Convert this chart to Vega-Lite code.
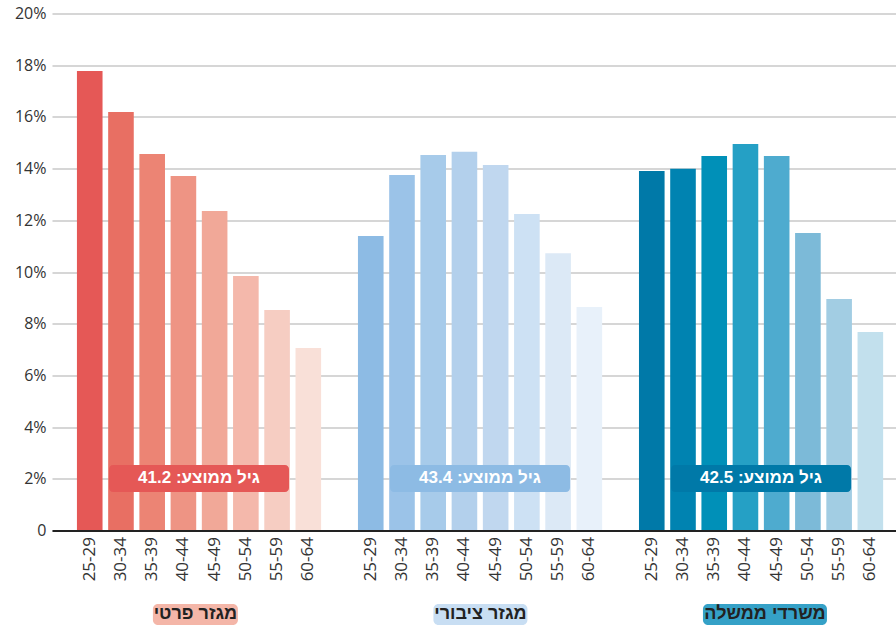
{
  "$schema": "https://vega.github.io/schema/vega-lite/v6.json",
  "width": 844,
  "height": 517,
  "autosize": {"type": "none"},
  "padding": {"left": 52, "top": 13.5, "right": 0, "bottom": 95.5},
  "background": "white",
  "config": {
    "view": {"stroke": null},
    "font": "Open Sans",
    "axisY": {
      "title": null,
      "values": [0, 2, 4, 6, 8, 10, 12, 14, 16, 18, 20],
      "labelExpr": "datum.value == 0 ? '0' : datum.value + '%'",
      "labelFontSize": 16,
      "labelColor": "#333333",
      "labelFont": "Open Sans",
      "labelPadding": 6,
      "ticks": false,
      "domain": false,
      "grid": true,
      "gridColor": "#d6d6d6",
      "gridWidth": 2
    }
  },
  "datasets": {
    "bars": [
      {"slot": "1|25-29", "group": "מגזר פרטי", "value": 17.78},
      {"slot": "1|30-34", "group": "מגזר פרטי", "value": 16.19},
      {"slot": "1|35-39", "group": "מגזר פרטי", "value": 14.56},
      {"slot": "1|40-44", "group": "מגזר פרטי", "value": 13.71},
      {"slot": "1|45-49", "group": "מגזר פרטי", "value": 12.36},
      {"slot": "1|50-54", "group": "מגזר פרטי", "value": 9.85},
      {"slot": "1|55-59", "group": "מגזר פרטי", "value": 8.53},
      {"slot": "1|60-64", "group": "מגזר פרטי", "value": 7.06},
      {"slot": "2|25-29", "group": "מגזר ציבורי", "value": 11.39},
      {"slot": "2|30-34", "group": "מגזר ציבורי", "value": 13.75},
      {"slot": "2|35-39", "group": "מגזר ציבורי", "value": 14.53},
      {"slot": "2|40-44", "group": "מגזר ציבורי", "value": 14.65},
      {"slot": "2|45-49", "group": "מגזר ציבורי", "value": 14.14},
      {"slot": "2|50-54", "group": "מגזר ציבורי", "value": 12.24},
      {"slot": "2|55-59", "group": "מגזר ציבורי", "value": 10.73},
      {"slot": "2|60-64", "group": "מגזר ציבורי", "value": 8.65},
      {"slot": "3|25-29", "group": "משרדי ממשלה", "value": 13.91},
      {"slot": "3|30-34", "group": "משרדי ממשלה", "value": 13.99},
      {"slot": "3|35-39", "group": "משרדי ממשלה", "value": 14.49},
      {"slot": "3|40-44", "group": "משרדי ממשלה", "value": 14.95},
      {"slot": "3|45-49", "group": "משרדי ממשלה", "value": 14.49},
      {"slot": "3|50-54", "group": "משרדי ממשלה", "value": 11.51},
      {"slot": "3|55-59", "group": "משרדי ממשלה", "value": 8.96},
      {"slot": "3|60-64", "group": "משרדי ממשלה", "value": 7.68}
    ],
    "groups": [
      {"slot": "1|40-44", "group": "מגזר פרטי", "label": "גיל ממוצע: 41.2"},
      {"slot": "2|40-44", "group": "מגזר ציבורי", "label": "גיל ממוצע: 43.4"},
      {"slot": "3|40-44", "group": "משרדי ממשלה", "label": "גיל ממוצע: 42.5"}
    ]
  },
  "encoding": {
    "x": {
      "field": "slot",
      "type": "nominal",
      "scale": {
        "type": "band",
        "domain": ["1|25-29","1|30-34","1|35-39","1|40-44","1|45-49","1|50-54","1|55-59","1|60-64","gap1",
                   "2|25-29","2|30-34","2|35-39","2|40-44","2|45-49","2|50-54","2|55-59","2|60-64","gap2",
                   "3|25-29","3|30-34","3|35-39","3|40-44","3|45-49","3|50-54","3|55-59","3|60-64"],
        "paddingInner": 0.18,
        "paddingOuter": 0.605,
        "align": 0.66
      },
      "axis": {
        "title": null,
        "labelExpr": "indexof(datum.value, '|') >= 0 ? split(datum.value, '|')[1] : ''",
        "labelAngle": 270,
        "labelAlign": "right",
        "labelBaseline": "middle",
        "labelPadding": 6,
        "labelFontSize": 17,
        "labelColor": "#333333",
        "labelFont": "Open Sans",
        "ticks": false,
        "domain": true,
        "domainColor": "#222222",
        "domainWidth": 2,
        "grid": false,
        "zindex": 1
      }
    }
  },
  "layer": [
    {
      "data": {"name": "bars"},
      "mark": {"type": "bar"},
      "encoding": {
        "y": {
          "field": "value",
          "type": "quantitative",
          "scale": {"domain": [0, 20], "nice": false}
        },
        "color": {
          "field": "slot",
          "type": "nominal",
          "legend": null,
          "scale": {
            "domain": ["1|25-29","1|30-34","1|35-39","1|40-44","1|45-49","1|50-54","1|55-59","1|60-64",
                       "2|25-29","2|30-34","2|35-39","2|40-44","2|45-49","2|50-54","2|55-59","2|60-64",
                       "3|25-29","3|30-34","3|35-39","3|40-44","3|45-49","3|50-54","3|55-59","3|60-64"],
            "range": ["#e55856","#e86f63","#ec8474","#ee9484","#f1a898","#f4b8ab","#f6cdc2","#f9e0d8",
                      "#8dbbe4","#9bc3e8","#a7cbea","#b3d0ec","#c0d7ef","#cde1f4","#dce9f6","#e8f1fa",
                      "#0079a8","#0083b1","#0090b8","#25a0c5","#4eabcf","#7cbad8","#a2cde3","#c2e0ed"]
          }
        }
      }
    },
    {
      "data": {"name": "groups"},
      "mark": {"type": "bar", "width": 180, "xOffset": 15.6, "cornerRadius": 4},
      "encoding": {
        "y": {"datum": 1.49, "type": "quantitative", "scale": {"domain": [0, 20], "nice": false}},
        "y2": {"datum": 2.53},
        "color": {
          "field": "group",
          "type": "nominal",
          "legend": null,
          "scale": {"domain": ["מגזר פרטי", "מגזר ציבורי", "משרדי ממשלה"], "range": ["#e55856", "#8dbbe4", "#0079a8"]}
        }
      }
    },
    {
      "data": {"name": "groups"},
      "mark": {"type": "text", "xOffset": 15.6, "color": "white", "font": "Liberation Sans", "fontSize": 17, "fontWeight": "bold", "baseline": "middle", "align": "center"},
      "encoding": {
        "y": {"datum": 2.02, "type": "quantitative", "scale": {"domain": [0, 20], "nice": false}},
        "text": {"field": "label"}
      }
    },
    {
      "data": {"name": "groups"},
      "transform": [{"filter": "datum.group == 'מגזר פרטי'"}],
      "layer": [
        {
          "mark": {"type": "bar", "width": 85, "xOffset": 12, "cornerRadius": 5, "color": "#f4b6a8"},
          "encoding": {
            "y": {"datum": -2.84, "type": "quantitative", "scale": {"domain": [0, 20], "nice": false}},
            "y2": {"datum": -3.66}
          }
        },
        {
          "mark": {"type": "text", "xOffset": 12, "color": "#222222", "font": "Liberation Sans", "fontSize": 18, "fontWeight": "bold", "baseline": "middle", "align": "center"},
          "encoding": {
            "y": {"datum": -3.22, "type": "quantitative", "scale": {"domain": [0, 20], "nice": false}},
            "text": {"field": "group"}
          }
        }
      ]
    },
    {
      "data": {"name": "groups"},
      "transform": [{"filter": "datum.group == 'מגזר ציבורי'"}],
      "layer": [
        {
          "mark": {"type": "bar", "width": 94, "xOffset": 16, "cornerRadius": 5, "color": "#c8def3"},
          "encoding": {
            "y": {"datum": -2.84, "type": "quantitative", "scale": {"domain": [0, 20], "nice": false}},
            "y2": {"datum": -3.66}
          }
        },
        {
          "mark": {"type": "text", "xOffset": 16, "color": "#222222", "font": "Liberation Sans", "fontSize": 18, "fontWeight": "bold", "baseline": "middle", "align": "center"},
          "encoding": {
            "y": {"datum": -3.22, "type": "quantitative", "scale": {"domain": [0, 20], "nice": false}},
            "text": {"field": "group"}
          }
        }
      ]
    },
    {
      "data": {"name": "groups"},
      "transform": [{"filter": "datum.group == 'משרדי ממשלה'"}],
      "layer": [
        {
          "mark": {"type": "bar", "width": 124, "xOffset": 19.5, "cornerRadius": 5, "color": "#35a1c7"},
          "encoding": {
            "y": {"datum": -2.84, "type": "quantitative", "scale": {"domain": [0, 20], "nice": false}},
            "y2": {"datum": -3.66}
          }
        },
        {
          "mark": {"type": "text", "xOffset": 19.5, "color": "#222222", "font": "Liberation Sans", "fontSize": 18, "fontWeight": "bold", "baseline": "middle", "align": "center"},
          "encoding": {
            "y": {"datum": -3.22, "type": "quantitative", "scale": {"domain": [0, 20], "nice": false}},
            "text": {"field": "group"}
          }
        }
      ]
    }
  ],
  "resolve": {"scale": {"color": "independent"}}
}
